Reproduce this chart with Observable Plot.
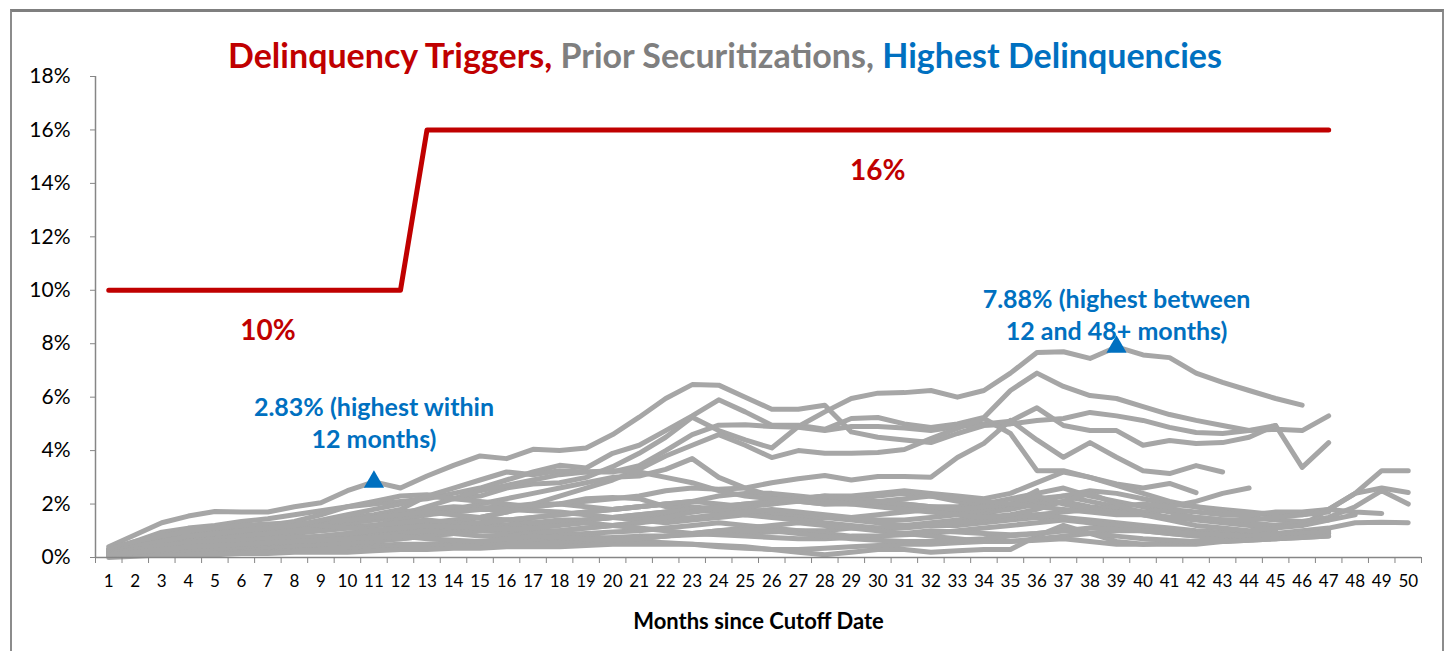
<!DOCTYPE html>
<html><head><meta charset="utf-8">
<script src="https://cdn.jsdelivr.net/npm/d3@7"></script>
<script src="https://cdn.jsdelivr.net/npm/@observablehq/plot@0.6"></script>
<style>
html,body{margin:0;padding:0;background:#fff;width:1450px;height:651px;overflow:hidden;font-family:Lato,"Open Sans",sans-serif;}
#frame{position:absolute;left:10px;top:9px;width:1434px;height:700px;border:2px solid #8c8c8c;border-top:3px solid #7f7f7f;box-sizing:border-box;}
#title{position:absolute;left:0;top:35px;width:1450px;text-align:center;font-weight:bold;font-size:34px;line-height:40px;white-space:nowrap;}
#chart{position:absolute;left:0;top:0;}
</style></head>
<body>
<div id="frame"></div>
<div id="chart"></div>
<div id="title"><span style="color:#c00000">Delinquency Triggers,</span> <span style="color:#7f7f7f">Prior Securitizations,</span> <span style="color:#0070c0">Highest Delinquencies</span></div>
<script>
// Months since cutoff (x categories)
const months = [1,2,3,4,5,6,7,8,9,10,11,12,13,14,15,16,17,18,19,20,21,22,23,24,25,26,27,28,29,30,31,32,33,34,35,36,37,38,39,40,41,42,43,44,45,46,47,48,49,50];
const yTicks = [0,2,4,6,8,10,12,14,16,18];

// Delinquency trigger (%), months 1..47
const trigger = [10,10,10,10,10,10,10,10,10,10,10,10,16,16,16,16,16,16,16,16,16,16,16,16,16,16,16,16,16,16,16,16,16,16,16,16,16,16,16,16,16,16,16,16,16,16,16];

// Prior securitizations: delinquency (%) by month, starting at month 1
const s01 = [0.4,0.85,1.3,1.55,1.72,1.7,1.7,1.9,2.05,2.5,2.83,2.6,3.05,3.45,3.8,3.7,4.05,4.0,4.1,4.6,5.25,5.95,6.47,6.45,6.0,5.55,5.55,5.7,4.7,4.5,4.4,4.3,4.64,4.94,5.0,5.13,5.2,5.43,5.3,5.13,4.87,4.68,4.64,4.75,4.8,4.75,5.3];
const s02 = [0.3,0.5,0.7,0.85,0.95,1.0,1.1,1.2,1.3,1.5,1.6,1.8,2.3,2.2,2.3,2.6,2.75,2.8,3.0,3.4,3.9,4.5,5.25,4.75,4.4,4.1,4.9,5.45,5.95,6.15,6.17,6.25,6.0,6.25,6.9,7.67,7.7,7.45,7.88,7.58,7.48,6.9,6.55,6.25,5.95,5.7];
const s03 = [0.3,0.6,0.95,1.1,1.2,1.35,1.45,1.6,1.75,1.9,2.0,2.1,2.2,2.4,2.6,2.9,3.2,3.45,3.35,3.9,4.2,4.75,5.3,5.9,5.45,4.95,4.95,4.8,5.2,5.24,5.0,4.87,5.0,5.24,6.25,6.9,6.4,6.06,5.95,5.65,5.35,5.13,4.94,4.75,4.94,3.37,4.3];
const s04 = [0.2,0.4,0.6,0.7,0.8,0.9,1.0,1.1,1.2,1.3,1.4,1.6,1.9,2.2,2.5,2.7,2.9,3.1,3.2,3.2,3.44,4.0,4.6,4.95,4.97,4.9,4.87,4.75,4.9,4.9,4.85,4.75,4.9,5.0,5.1,5.6,4.94,4.75,4.75,4.2,4.38,4.27,4.3,4.5,4.94];
const s05 = [0.2,0.35,0.5,0.6,0.7,0.8,0.9,1.0,1.1,1.15,1.2,1.25,1.2,1.3,1.5,1.7,2.0,2.3,2.6,2.9,3.3,3.8,4.2,4.6,4.2,3.74,4.0,3.9,3.9,3.93,4.04,4.45,4.83,5.2,4.64,3.25,3.25,3.0,2.75,2.6,2.77,2.43];
const s06 = [0.1,0.2,0.3,0.4,0.5,0.55,0.6,0.7,0.8,0.9,1.0,1.1,1.3,1.4,1.5,1.7,1.9,2.0,2.1,2.2,2.3,2.5,2.6,2.55,2.6,2.8,2.95,3.07,2.9,3.03,3.03,3.0,3.74,4.27,5.13,4.4,3.75,4.3,3.75,3.25,3.14,3.44,3.2];
const s07 = [0.2,0.3,0.4,0.5,0.6,0.7,0.8,0.9,1.0,1.1,1.2,1.4,1.6,1.8,2.0,2.2,2.4,2.6,2.8,3.0,3.05,3.3,3.7,3.0,2.6,2.3,2.1,2.0,2.05,2.1,2.0,1.9,1.9,2.0,2.2,2.4,2.6,2.3,2.1,1.9,1.7,1.5,1.4,1.3,1.2,1.2,1.8,2.4,2.6,2.43];
const s08 = [0.1,0.2,0.3,0.35,0.4,0.45,0.5,0.6,0.7,0.8,0.9,1.0,1.1,1.2,1.3,1.4,1.5,1.6,1.7,1.8,1.9,2.0,2.1,2.3,2.4,2.4,2.3,2.2,2.2,2.3,2.4,2.3,2.1,2.0,1.9,2.1,2.3,2.5,2.4,2.2,2.0,1.9,1.8,1.7,1.6,1.6,1.8,2.4,3.25,3.25];
const s09 = [0.1,0.15,0.2,0.3,0.35,0.4,0.45,0.5,0.55,0.6,0.65,0.7,0.8,0.9,1.0,1.1,1.2,1.3,1.4,1.5,1.6,1.7,1.8,1.9,2.0,2.1,2.2,2.3,2.3,2.4,2.5,2.4,2.3,2.2,2.4,2.8,3.2,3.0,2.7,2.4,2.1,1.9,1.7,1.5,1.4,1.35,1.5,1.9,2.5,2.0];
const s10 = [0.05,0.1,0.15,0.2,0.2,0.25,0.3,0.3,0.35,0.4,0.45,0.5,0.5,0.55,0.6,0.6,0.65,0.7,0.7,0.75,0.8,0.8,0.85,0.9,0.9,0.95,1.0,1.0,1.1,1.1,1.2,1.2,1.2,1.3,1.4,1.5,1.5,1.4,1.3,1.2,1.1,1.0,0.95,0.9,0.9,1.0,1.1,1.3,1.32,1.3];
const s11 = [0.2,0.4,0.6,0.7,0.8,0.9,0.95,1.0,1.1,1.3,1.5,1.7,1.8,1.9,1.85,1.9,2.0,2.0,1.9,1.8,1.9,2.0,1.9,1.8,1.9,2.0,2.1,2.2,2.1,2.0,1.9,1.8,1.7,1.7,1.8,2.0,2.1,1.9,1.8,1.7,1.8,1.7,1.6,1.6,1.7,1.7,1.8,1.7,1.65];
const s12 = [0.3,0.5,0.7,0.85,1.0,1.1,1.2,1.35,1.6,1.9,2.1,2.3,2.35,2.2,2.1,2.0,1.9,2.0,2.2,2.25,2.2,1.9,1.8,1.7,1.6,1.6,1.5,1.5,1.4,1.3,1.2,1.3,1.4,1.6,1.9,2.2,2.3,2.1,1.9,1.7,1.5,1.4,1.3,1.2,1.2,1.3,1.4];
const s13 = [0.1,0.2,0.3,0.3,0.4,0.5,0.5,0.6,0.6,0.7,0.8,0.9,1.0,1.1,1.2,1.2,1.3,1.4,1.4,1.5,1.5,1.6,1.7,1.8,1.8,1.7,1.6,1.5,1.5,1.6,1.7,1.8,1.7,1.6,1.5,1.6,1.7,1.8,1.9,2.0,1.9,2.1,2.4,2.6];
const s14 = [0.05,0.1,0.1,0.15,0.2,0.2,0.2,0.25,0.3,0.3,0.35,0.4,0.4,0.45,0.5,0.5,0.5,0.55,0.55,0.6,0.6,0.55,0.5,0.45,0.4,0.3,0.2,0.1,0.2,0.3,0.3,0.2,0.25,0.3,0.3,0.8,1.2,0.9,0.6,0.5,0.5,0.5,0.6,0.7,0.7,0.8,0.9];
const s15 = [0.3,0.5,0.6,0.7,0.8,0.9,1.0,1.1,1.2,1.3,1.4,1.5,1.6,1.7,1.8,1.8,1.75,1.7,1.6,1.5,1.4,1.3,1.4,1.5,1.6,1.5,1.4,1.3,1.2,1.1,1.1,1.2,1.3,1.4,1.5,1.6,1.5,1.3,1.1,1.0,0.9,0.8,0.8,0.9,1.0];
const s16 = [0.2,0.3,0.4,0.5,0.55,0.6,0.65,0.7,0.75,0.8,0.85,0.9,0.95,1.0,1.0,0.95,0.9,0.85,0.9,0.95,1.0,1.1,1.2,1.3,1.2,1.1,1.0,0.9,0.8,0.8,0.85,0.9,1.0,1.1,1.2,1.3,1.4,1.3,1.2,1.1,1.0,0.9,0.8,0.75,0.8,0.9,1.0];
const s17 = [0.2,0.3,0.5,0.6,0.7,0.8,0.9,1.0,1.0,1.1,1.2,1.3,1.4,1.3,1.2,1.1,1.0,1.0,1.1,1.2,1.3,1.4,1.5,1.6,1.7,1.8,1.7,1.6,1.5,1.4,1.4,1.5,1.6,1.8,2.0,2.5];
const s18 = [0.1,0.15,0.2,0.25,0.3,0.35,0.4,0.45,0.5,0.55,0.6,0.7,0.8,0.9,1.0,1.1,1.0,0.9,0.8,0.7,0.7,0.8,0.9,1.0,1.1,1.2,1.3,1.2,1.1,1.0,0.9,0.8,0.7,0.6,0.6,0.7,0.8,0.9,1.0,1.0,0.9,0.8,0.7,0.7];
const s19 = [0.2,0.4,0.6,0.8,0.9,1.0,1.1,1.2,1.3,1.4,1.5,1.6,1.7,1.6,1.5,1.4,1.3,1.3,1.4,1.5,1.6,1.7,1.8,1.9];
const s20 = [0.0,0.05,0.1,0.1,0.1,0.15,0.15,0.2,0.2,0.2,0.25,0.3,0.3,0.35,0.35,0.4,0.4,0.4,0.45,0.5,0.5,0.5,0.5,0.4,0.35,0.3,0.3,0.35,0.4,0.45,0.5,0.5,0.55,0.6,0.6,0.65,0.7,0.6,0.5,0.5,0.55,0.6,0.6,0.65,0.7,0.75,0.8];
const s21 = [0.3,0.6,0.8,1.0,1.1,1.2,1.25,1.3,1.2,1.1,1.05,1.0,1.1,1.2,1.3,1.4,1.5,1.6,1.7,1.8,1.9,2.0,2.1,2.0,1.9,2.0,2.2,2.3,2.2,2.1,2.0,1.9,1.8,1.9,2.0,2.3,2.0,1.8,1.7,1.6,1.5,1.5,1.4,1.4];
const s22 = [0.1,0.2,0.25,0.3,0.35,0.4,0.5,0.6,0.7,0.7,0.8,0.9,1.0,0.9,0.8,0.8,0.9,1.0,1.1,1.2,1.3,1.5,1.7,1.9,2.0,2.1,2.2,2.1,2.0,1.9,1.8,1.7,1.6,1.5,1.6,1.8,2.1,2.4,2.0,1.6,1.4,1.2,1.1,1.0,1.1,1.2,1.4,1.6];
const s23 = [0.2,0.4,0.6,0.8,0.9,1.0,1.1,1.2,1.4,1.6,1.8,2.0,2.3,2.6,2.9,3.2,3.1,3.25,3.2,3.25,3.2,3.0,2.8,2.5,2.3,2.2,2.1,2.0,2.0,2.1,2.2,2.3,2.2,2.1,2.0,1.9,1.8,1.7,1.6,1.6,1.5,1.5,1.4,1.4,1.5,1.6,1.7];
const s24 = [0.15,0.3,0.45,0.55,0.6,0.65,0.7,0.75,0.8,0.9,1.0,1.1,1.2,1.15,1.1,1.05,1.1,1.2,1.3,1.2,1.1,1.0,0.9,0.85,0.8,0.75,0.7,0.7,0.75,0.8,0.9,1.0,0.95,0.9,0.85,0.9,1.0,1.1,1.05,1.0,0.95,0.9,0.85,0.8,0.85,0.9,0.95];
const s25 = [0.1,0.2,0.3,0.4,0.45,0.5,0.55,0.6,0.65,0.7,0.75,0.8,0.7,0.65,0.6,0.7,0.8,0.75,0.7,0.65,0.7,0.8,0.9,1.0,1.05,1.0,0.9,0.8,0.7,0.65,0.6,0.6,0.65,0.7,0.8,0.9,1.0,0.9,0.8,0.7,0.65,0.6,0.6,0.65,0.7,0.75,0.8];
const priorSeries = {s01,s02,s03,s04,s05,s06,s07,s08,s09,s10,s11,s12,s13,s14,s15,s16,s17,s18,s19,s20,s21,s22,s23,s24,s25};

// Highest delinquencies
const highWithin12 = [{month: 11, value: 2.83, label: "2.83% (highest within\n12 months)"}];
const highAfter12 = [{month: 39, value: 7.88, label: "7.88% (highest between\n12 and 48+ months)"}];
// Trigger level labels
const triggerLabels = [
  {month: 7, value: 10, label: "10%"},
  {month: 30, value: 16, label: "16%"}
];
const xTitle = ["Months since Cutoff Date"];

const priorRows = [];
for (const [name, vals] of Object.entries(priorSeries)) {
  vals.forEach((v, i) => priorRows.push({series: name, month: months[i], value: v}));
}
const triggerRows = trigger.map((v, i) => ({month: months[i], value: v}));
const halfTicks = [0.5, ...months.map(m => m + 0.5)];

const axisGrey = "#868686";
const blue = "#0070c0";
const chart = Plot.plot({
  width: 1450,
  height: 651,
  marginLeft: 95,
  marginRight: 29,
  marginTop: 76,
  marginBottom: 94,
  style: {fontFamily: "Lato, 'Open Sans', sans-serif", color: "#000", background: "transparent"},
  x: {domain: [0.5, 50.5], axis: null},
  y: {domain: [0, 18], axis: null},
  marks: [
    Plot.line(priorRows, {x: "month", y: "value", z: "series", stroke: "#a6a6a6", strokeWidth: 5, strokeLinejoin: "round", strokeLinecap: "round"}),
    Plot.line(triggerRows, {x: "month", y: "value", stroke: "#c00000", strokeWidth: 5, strokeLinejoin: "round"}),
    Plot.ruleX([0.5], {stroke: axisGrey, strokeWidth: 1.5}),
    Plot.ruleY([0], {stroke: axisGrey, strokeWidth: 1.5}),
    Plot.axisY({ticks: yTicks, tickFormat: d => d + "%", tickSize: 5, tickPadding: 20, fontSize: 21, stroke: axisGrey, fill: "#000", label: null}),
    Plot.axisX({ticks: halfTicks, tickFormat: () => "", tickSize: 6, stroke: axisGrey, label: null}),
    Plot.axisX({ticks: months, tickFormat: d => String(d), tickSize: 0, tickPadding: 17, fontSize: 17, fill: "#000", label: null}),
    Plot.text(xTitle, {frameAnchor: "bottom", dy: 71, fontSize: 22, fontWeight: "bold", fill: "#000"}),
    Plot.dot(highWithin12.concat(highAfter12), {x: "month", y: "value", symbol: "triangle", r: 7.5, fill: blue, stroke: "none"}),
    Plot.text(highWithin12, {x: "month", y: "value", text: "label", dy: -60, fill: blue, fontSize: 25, fontWeight: "bold", lineHeight: 1.25}),
    Plot.text(highAfter12, {x: "month", y: "value", text: "label", dy: -33, fill: blue, fontSize: 25, fontWeight: "bold", lineHeight: 1.25}),
    Plot.text(triggerLabels, {x: "month", y: "value", text: "label", dy: 41, fill: "#c00000", fontSize: 28, fontWeight: "bold"})
  ]
});
document.getElementById("chart").appendChild(chart);
</script>
</body></html>
